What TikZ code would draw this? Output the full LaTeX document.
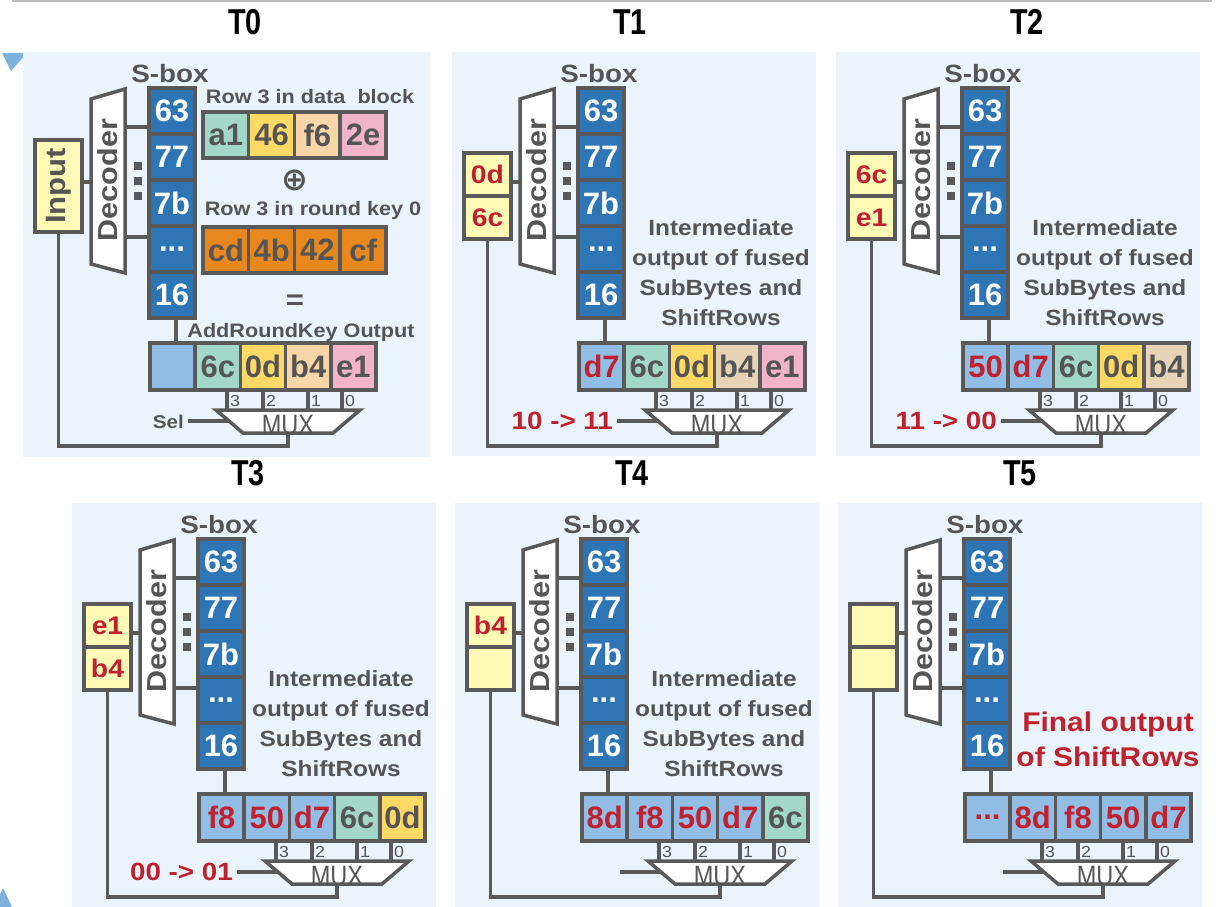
\documentclass[tikz,border=0pt]{standalone}
\usepackage{fontspec}
\setmainfont{Liberation Sans}[FakeStretch=1.11]
\newfontfamily\cellfont{Liberation Sans}
\newfontfamily\symfont{DejaVu Sans}
\usetikzlibrary{calc}
\definecolor{bgray}{HTML}{595959}
\definecolor{panelbg}{HTML}{EBF4FB}
\definecolor{sblue}{HTML}{2E75B6}
\definecolor{lblue}{HTML}{92BEE6}
\definecolor{cmint}{HTML}{A3D7C7}
\definecolor{cgold}{HTML}{FFD966}
\definecolor{cpeach}{HTML}{F9D6A8}
\definecolor{ctan}{HTML}{E7D4B7}
\definecolor{cpink}{HTML}{F1B4C8}
\definecolor{corange}{HTML}{E8871E}
\definecolor{lyel}{HTML}{FFFAB6}
\definecolor{redtxt}{HTML}{C0212E}
\definecolor{tgray}{HTML}{555555}
\definecolor{tri}{HTML}{7DB2DF}
\definecolor{topline}{HTML}{BBBBBB}
\newcommand\fs[1]{\fontsize{#1}{#1}\selectfont\bfseries}
\newcommand\cfs[1]{\cellfont\fontsize{#1}{#1}\selectfont\bfseries}
\tikzset{
  wire/.style={draw=bgray, line width=3.5pt},
  boxcell/.style={draw=bgray, line width=3.5pt, inner sep=0pt, minimum width=45.2pt, minimum height=47pt, font=\cfs{31}, text=tgray},
  sbcell/.style={boxcell, fill=sblue, text=white, minimum width=46pt, minimum height=46pt},
  ycell/.style={boxcell, fill=lyel, text=redtxt, minimum width=47pt, minimum height=43pt, font=\fs{25.5}},
  lbl/.style={text=tgray, inner sep=0pt, font=\fs{19.5}},
  sboxlbl/.style={text=tgray, inner sep=0pt, font=\fs{25}},
  declbl/.style={text=tgray, inner sep=0pt, font=\fs{27.5}},
  midlbl/.style={text=tgray, inner sep=0pt, font={\fontsize{22}{30}\selectfont\bfseries}, align=center},
  muxlbl/.style={text=tgray, inner sep=0pt, font=\cellfont\fontsize{28}{28}\selectfont},
  pinlbl/.style={text=tgray, inner sep=0pt, font=\fontsize{16}{16}\selectfont, anchor=west},
  sellbl/.style={text=redtxt, inner sep=0pt, font=\fs{25}, anchor=east},
  ttl/.style={text=black, inner sep=0pt, font=\cfs{36}},
}
\newcommand\rcell[5]{\node[boxcell, fill=#3, text=#4] (#1) at (#2,366.5) {#5};}
% #1 prefix, #2 node whose south starts the feedback, #3 node whose east feeds the decoder
\newcommand\panelcommon[3]{%
  \node[sboxlbl] (#1sbl) at (170,74) {S-box};
  \node[sbcell] (#1s1) at (172,111) {63};
  \node[sbcell] (#1s2) at (172,157) {77};
  \node[sbcell] (#1s3) at (172,203) {7b};
  \node[sbcell] (#1s4) at (172,249) {...};
  \node[sbcell] (#1s5) at (172,295) {16};
  \draw[wire, fill=white] (91,99) -- (125,89) -- (125,273) -- (91,264) -- cycle;
  \node[declbl] (#1dec) at (108,180) {\rotatebox{90}{Decoder}};
  \coordinate (#1d1) at (125,127);
  \coordinate (#1d2) at (125,237);
  \draw[wire] (#1d1) -- (#1d1 -| #1s1.west);
  \draw[wire] (#1d2) -- (#1d2 -| #1s4.west);
  \fill[bgray] (134,162) rectangle +(8,8);
  \fill[bgray] (134,177) rectangle +(8,8);
  \fill[bgray] (134,192) rectangle +(8,8);
  \coordinate (#1dl) at (91,182);
  \draw[wire] (#1dl) -- (#1dl -| #3.east);
  \coordinate (#1sx) at (176,318);
  \draw[wire] (#1sx) -- (#1sx |- #1r1.north);
  \coordinate (#1p3) at (227,410);
  \coordinate (#1p2) at (263,410);
  \coordinate (#1p1) at (308,410);
  \coordinate (#1p0) at (342,410);
  \draw[wire] (#1p3) -- (#1p3 |- #1r2.south);
  \draw[wire] (#1p2) -- (#1p2 |- #1r3.south);
  \draw[wire] (#1p1) -- (#1p1 |- #1r4.south);
  \draw[wire] (#1p0) -- (#1p0 |- #1r5.south);
  \node[pinlbl] (#1l3) at (230,401) {3};
  \node[pinlbl] (#1l2) at (266,401) {2};
  \node[pinlbl] (#1l1) at (311,401) {1};
  \node[pinlbl] (#1l0) at (345,401) {0};
  \coordinate (#1sel) at (188,421);
  \draw[wire] (#1sel) -- (232,421);
  \coordinate (#1muxb) at (288,433);
  \coordinate (#1fb) at (288,446);
  \draw[wire] (#2.south) |- (#1fb) -- (#1muxb);
  \draw[wire, fill=white] (216,410) -- (360,410) -- (333,433) -- (243,433) -- cycle;
  \node[muxlbl] (#1mux) at (288,425) {\scalebox{0.84}[1]{MUX}};
}
\begin{document}
\begin{tikzpicture}[x=1pt,y=-1pt]
\useasboundingbox (0,0) rectangle (1227,907);
\clip (0,0) rectangle (1227,907);
\fill[white] (0,0) rectangle (1227,907);
\draw[topline, line width=1.5pt] (12,1) -- (1212,1);
\fill[tri] (2,53) -- (27,53) -- (11,71) -- cycle;
\fill[tri] (-6,907) -- (3,888) -- (12,907) -- cycle;
% titles
\node[ttl] (t0) at (245,22) {\scalebox{0.8}[1]{T0}};
\node[ttl] (t1) at (630,22) {\scalebox{0.8}[1]{T1}};
\node[ttl] (t2) at (1027,22) {\scalebox{0.8}[1]{T2}};
\node[ttl] (t3) at (248,473) {\scalebox{0.8}[1]{T3}};
\node[ttl] (t4) at (632,473) {\scalebox{0.8}[1]{T4}};
\node[ttl] (t5) at (1020,473) {\scalebox{0.8}[1]{T5}};
% ---------------- T0
\begin{scope}
\fill[panelbg] (23,52) rectangle (430,457);
\node[boxcell, fill=lyel, minimum width=47pt, minimum height=92pt, font=\fs{28}] (p0in) at (58.5,186) {\rotatebox{90}{Input}};
\node[lbl] (p0rd) at (310,97) {Row 3 in data~ block};
\node[boxcell, fill=cmint, minimum width=45.75pt, minimum height=46pt] (p0a1) at (225.9,135) {a1};
\node[boxcell, fill=cgold, minimum width=45.75pt, minimum height=46pt] (p0a2) at (271.6,135) {46};
\node[boxcell, fill=cpeach, minimum width=45.75pt, minimum height=46pt] (p0a3) at (317.4,135) {f6};
\node[boxcell, fill=cpink, minimum width=45.75pt, minimum height=46pt] (p0a4) at (363.1,135) {2e};
\node[text=tgray, inner sep=0pt, font=\symfont\bfseries\fontsize{32}{32}\selectfont] (p0xor) at (295,180) {⊕};
\node[lbl] (p0rk) at (313,210) {Row 3 in round key 0};
\node[boxcell, fill=corange, minimum width=45.75pt, minimum height=46pt] (p0k1) at (225.9,250) {cd};
\node[boxcell, fill=corange, minimum width=45.75pt, minimum height=46pt] (p0k2) at (271.6,250) {4b};
\node[boxcell, fill=corange, minimum width=45.75pt, minimum height=46pt] (p0k3) at (317.4,250) {42};
\node[boxcell, fill=corange, minimum width=45.75pt, minimum height=46pt] (p0k4) at (363.1,250) {cf};
\node[text=tgray, inner sep=0pt, font=\fs{28}] (p0eq) at (295,302) {=};
\node[lbl] (p0ak) at (301,332) {AddRoundKey Output};
\rcell{p0r1}{172.6}{lblue}{redtxt}{}
\rcell{p0r2}{217.8}{cmint}{tgray}{6c}
\rcell{p0r3}{263}{cgold}{tgray}{0d}
\rcell{p0r4}{308.2}{cpeach}{tgray}{b4}
\rcell{p0r5}{353.4}{cpink}{tgray}{e1}
\node[sellbl, text=tgray, font=\fs{18.5}] (p0sl) at (184,422) {Sel};
\panelcommon{p0}{p0in}{p0in}
\end{scope}
% ---------------- T1
\begin{scope}[shift={(429,0)}]
\fill[panelbg] (23,52) rectangle (387,456);
\node[ycell] (p1yt) at (58.5,174.5) {0d};
\node[ycell] (p1yb) at (58.5,217.5) {6c};
\node[midlbl] (p1mid) at (292,272.5) {Intermediate\\output of fused\\SubBytes and\\ShiftRows};
\rcell{p1r1}{172.6}{lblue}{redtxt}{d7}
\rcell{p1r2}{217.8}{cmint}{tgray}{6c}
\rcell{p1r3}{263}{cgold}{tgray}{0d}
\rcell{p1r4}{308.2}{ctan}{tgray}{b4}
\rcell{p1r5}{353.4}{cpink}{tgray}{e1}
\node[sellbl] (p1sl) at (184,421) {10 -> 11};
\panelcommon{p1}{p1yb}{p1yt}
\end{scope}
% ---------------- T2
\begin{scope}[shift={(813,0)}]
\fill[panelbg] (23,52) rectangle (387,456);
\node[ycell] (p2yt) at (58.5,174.5) {6c};
\node[ycell] (p2yb) at (58.5,217.5) {e1};
\node[midlbl] (p2mid) at (292,272.5) {Intermediate\\output of fused\\SubBytes and\\ShiftRows};
\rcell{p2r1}{172.6}{lblue}{redtxt}{50}
\rcell{p2r2}{217.8}{lblue}{redtxt}{d7}
\rcell{p2r3}{263}{cmint}{tgray}{6c}
\rcell{p2r4}{308.2}{cgold}{tgray}{0d}
\rcell{p2r5}{353.4}{ctan}{tgray}{b4}
\node[sellbl] (p2sl) at (184,421) {11 -> 00};
\panelcommon{p2}{p2yb}{p2yt}
\end{scope}
% ---------------- T3
\begin{scope}[shift={(49,451)}]
\fill[panelbg] (23,52) rectangle (387,456);
\node[ycell] (p3yt) at (58.5,174.5) {e1};
\node[ycell] (p3yb) at (58.5,217.5) {b4};
\node[midlbl] (p3mid) at (292,272.5) {Intermediate\\output of fused\\SubBytes and\\ShiftRows};
\rcell{p3r1}{172.6}{lblue}{redtxt}{f8}
\rcell{p3r2}{217.8}{lblue}{redtxt}{50}
\rcell{p3r3}{263}{lblue}{redtxt}{d7}
\rcell{p3r4}{308.2}{cmint}{tgray}{6c}
\rcell{p3r5}{353.4}{cgold}{tgray}{0d}
\node[sellbl] (p3sl) at (184,421) {00 -> 01};
\panelcommon{p3}{p3yb}{p3yt}
\end{scope}
% ---------------- T4
\begin{scope}[shift={(432,451)}]
\fill[panelbg] (23,52) rectangle (387,456);
\node[ycell] (p4yt) at (58.5,174.5) {b4};
\node[ycell] (p4yb) at (58.5,217.5) {};
\node[midlbl] (p4mid) at (292,272.5) {Intermediate\\output of fused\\SubBytes and\\ShiftRows};
\rcell{p4r1}{172.6}{lblue}{redtxt}{8d}
\rcell{p4r2}{217.8}{lblue}{redtxt}{f8}
\rcell{p4r3}{263}{lblue}{redtxt}{50}
\rcell{p4r4}{308.2}{lblue}{redtxt}{d7}
\rcell{p4r5}{353.4}{cmint}{tgray}{6c}
\panelcommon{p4}{p4yb}{p4yt}
\end{scope}
% ---------------- T5
\begin{scope}[shift={(815,451)}]
\fill[panelbg] (23,52) rectangle (387,456);
\node[ycell] (p5yt) at (58.5,174.5) {};
\node[ycell] (p5yb) at (58.5,217.5) {};
\node[text=redtxt, inner sep=0pt, align=center, font={\fontsize{27}{35}\selectfont\bfseries}] (p5fin) at (293,288.5) {Final output\\of ShiftRows};
\rcell{p5r1}{172.6}{lblue}{redtxt}{...}
\rcell{p5r2}{217.8}{lblue}{redtxt}{8d}
\rcell{p5r3}{263}{lblue}{redtxt}{f8}
\rcell{p5r4}{308.2}{lblue}{redtxt}{50}
\rcell{p5r5}{353.4}{lblue}{redtxt}{d7}
\panelcommon{p5}{p5yb}{p5yt}
\end{scope}
\end{tikzpicture}
\end{document}
